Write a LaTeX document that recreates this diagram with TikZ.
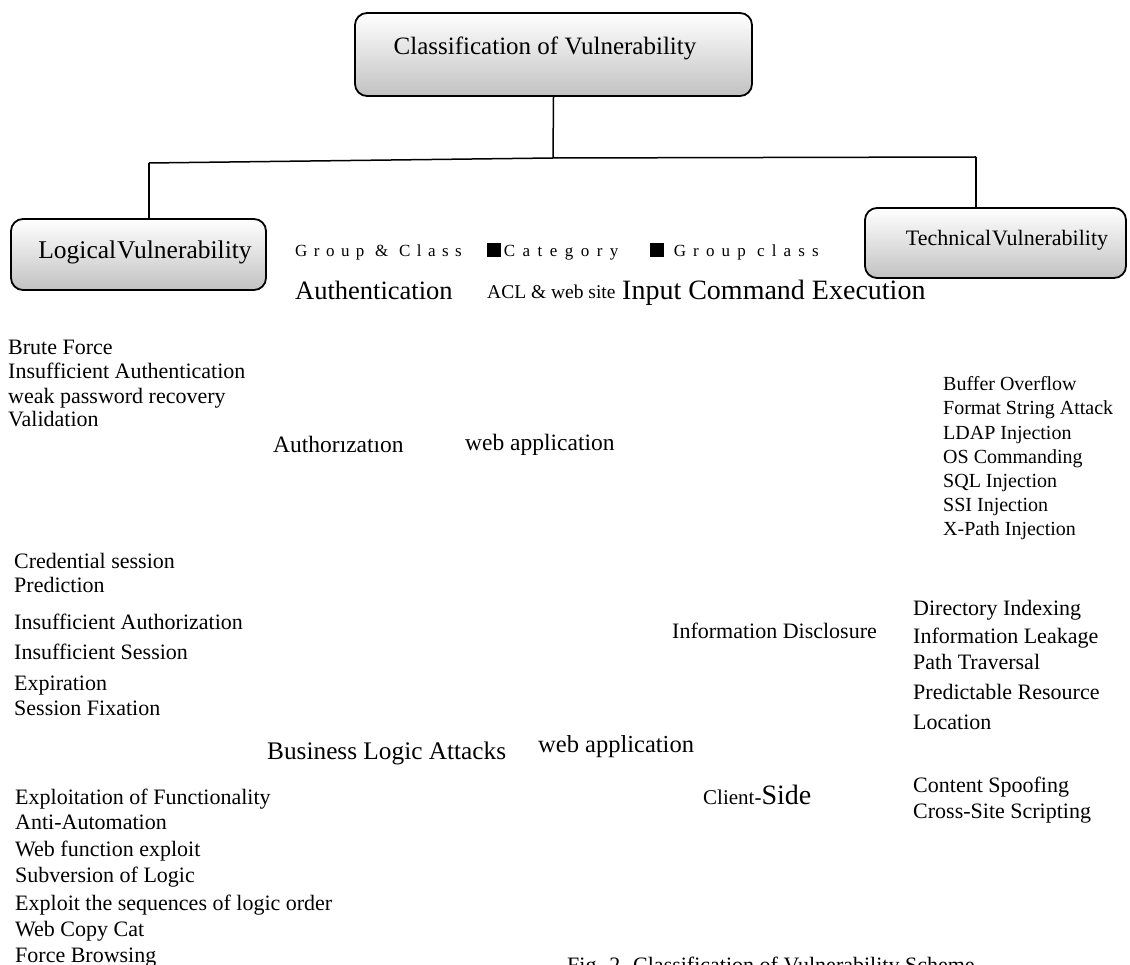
\documentclass[tikz,border=0pt]{standalone}
\usepackage{fontspec}
\setmainfont{Liberation Serif}
\newcommand{\fs}[1]{\fontsize{#1}{#1}\selectfont}
\newcommand{\blacksq}{\rule{0.8em}{0.8em}}
\begin{document}
\begin{tikzpicture}[x=1pt,y=-1pt,
  catbox/.style={draw=black, line width=1.8pt, rounded corners=12pt,
    top color=white, bottom color=black!24, inner sep=0pt},
  boxlbl/.style={inner sep=0pt, font=\fs{22}},
  item/.style={anchor=base west, inner sep=0pt, font=\fs{22}},
  tech item/.style={item, font=\fs{20}},
  head/.style={anchor=base west, inner sep=0pt, font=\fs{24}},
  legend/.style={anchor=base west, inner sep=0pt,
    font=\fs{17}\addfontfeature{LetterSpace=38}},
  link/.style={line width=1.5pt, draw=black}]
\useasboundingbox (0,0) rectangle (1130,965);
\clip (0,0) rectangle (1130,965);

% tree of the three category boxes
\node[catbox, minimum width=397pt, minimum height=83pt] (root) at (553.5,54.5) {};
\node[anchor=base, inner sep=0pt, font=\fs{25}] (rootlbl) at (545,55) {Classification of Vulnerability};
\node[catbox, minimum width=255pt, minimum height=71pt] (logic) at (138.5,254.5) {};
\node[boxlbl, font=\fs{25.5}] (logiclbl) at (145,252) {Logical\hspace{1pt}Vulnerability};
\node[catbox, minimum width=261pt, minimum height=70pt] (tech) at (995.5,243) {};
\node[boxlbl] (techlbl) at (1007,240) {Technical\hspace{1pt}Vulnerability};

\coordinate (hubL) at (149,163);
\coordinate (hubM) at (553,158);
\coordinate (hubR) at (976,157);
\draw[link] (root.south) -- (hubM);
\draw[link] (hubL) -- (hubM) -- (hubR);
\draw[link] (hubL) -- (hubL |- logic.north);
\draw[link] (hubR) -- (hubR |- tech.north);

% legend row
\node[legend] (leg1) at (295,257) {Group \& Class};
\node[legend, font=\fs{17}\addfontfeature{LetterSpace=44}] (leg2) at (487,257) {\blacksq\hspace{3pt}Category};
\node[legend, font=\fs{17}\addfontfeature{LetterSpace=42}] (leg3) at (650,257) {\blacksq\hspace{10pt}Group class};

% group headings
\node[head, font=\fs{26.5}] (authn) at (295,300) {Authentication};
\node[head, font=\fs{19.5}] (acl) at (487,299) {ACL \& web site};
\node[head, font=\fs{28}] (input) at (622,300) {Input Command Execution};
\node[head, font=\fs{23.5}] (authz) at (273,453) {Authorızatıon};
\node[head, font=\fs{23.5}] (webapp1) at (465,450) {web application};
\node[head, font=\fs{22}] (infodis) at (672,638) {Information Disclosure};
\node[head, font=\fs{25.3}] (bizlogic) at (267,759) {Business Logic Attacks};
\node[head, font=\fs{24.5}] (webapp2) at (538,752) {web application};
\node[head] (client) at (703,804) {{\fs{21}Client-}{\fs{28}Side}};

% authentication items
\node[item] (bf) at (8,355) {Brute Force};
\node[item] (ia) at (8,379) {Insufficient Authentication};
\node[item] (wpr) at (8,403) {weak password recovery};
\node[item] (val) at (8,427) {Validation};

% authorization items
\node[item] (csp1) at (14,568) {Credential session};
\node[item] (csp2) at (14,592) {Prediction};
\node[item] (iaz) at (14,629) {Insufficient Authorization};
\node[item] (ise1) at (14,659) {Insufficient Session};
\node[item] (ise2) at (14,690) {Expiration};
\node[item] (sf) at (14,715) {Session Fixation};

% business logic items
\node[item] (eof) at (15,804) {Exploitation of Functionality};
\node[item] (aa) at (15,829) {Anti-Automation};
\node[item] (wfe) at (15,856) {Web function exploit};
\node[item] (sol) at (15,882) {Subversion of Logic};
\node[item] (esl) at (15,910) {Exploit the sequences of logic order};
\node[item] (wcc) at (15,936) {Web Copy Cat};
\node[item] (fb) at (15,962) {Force Browsing};

% command execution items
\node[tech item] (bo) at (943,391) {Buffer Overflow};
\node[tech item] (fsa) at (943,415) {Format String Attack};
\node[tech item] (ldap) at (943,439) {LDAP Injection};
\node[tech item] (osc) at (943,463) {OS Commanding};
\node[tech item] (sqli) at (943,487) {SQL Injection};
\node[tech item] (ssii) at (943,511) {SSI Injection};
\node[tech item] (xpi) at (943,535) {X-Path Injection};

% information disclosure items
\node[item] (di) at (913,615) {Directory Indexing};
\node[item] (il) at (913,643) {Information Leakage};
\node[item] (pt) at (913,669) {Path Traversal};
\node[item] (prl1) at (913,699) {Predictable Resource};
\node[item] (prl2) at (913,729) {Location};

% client-side items
\node[item] (cs) at (913,792) {Content Spoofing};
\node[item] (xss) at (913,818) {Cross-Site Scripting};

% caption
\node[anchor=base west, inner sep=0pt, font=\fs{22}] (caption) at (567,972) {Fig. 2. Classification of Vulnerability Scheme};
\end{tikzpicture}
\end{document}
